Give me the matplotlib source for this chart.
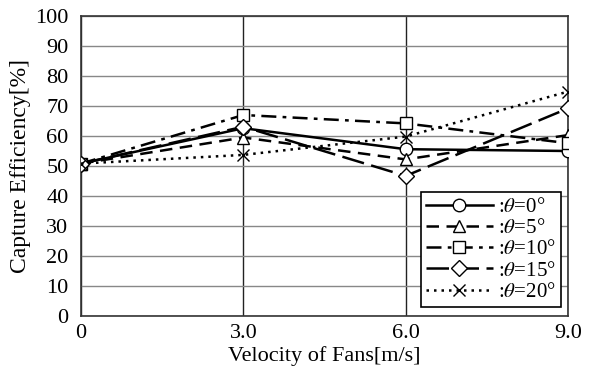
import matplotlib
matplotlib.use("Agg")
import matplotlib.pyplot as plt

velocity = [0, 3.0, 6.0, 9.0]
xtick_labels = ["0", "3.0", "6.0", "9.0"]
theta_labels = ["0", "5", "10", "15", "20"]
eff_0 = [50.8, 62.6, 55.6, 55.0]
eff_5 = [50.8, 59.5, 52.2, 60.3]
eff_10 = [50.8, 67.0, 64.2, 57.6]
eff_15 = [50.8, 63.1, 46.7, 69.2]
eff_20 = [50.8, 53.7, 59.8, 74.8]

plt.rcParams['font.family'] = ['Liberation Serif', 'DejaVu Serif']
plt.rcParams['mathtext.fontset'] = 'stix'

fig = plt.figure(figsize=(5.96, 3.76), dpi=100)
ax = fig.add_axes([81/596, 1-316/376, (568-81)/596, 300/376])

series = [eff_0, eff_5, eff_10, eff_15, eff_20]
markers = ['o', '^', 's', 'D', 'x']
styles = ['-', (0, (5, 3)), (0, (6, 2.5, 1.5, 2.5)), (0, (9, 3)), (0, (1, 2))]
msizes = [9, 9, 9, 8, 9]
for vals, m, ls, th, ms in zip(series, markers, styles, theta_labels, msizes):
    ax.plot(velocity, vals, color='black', linestyle=ls, linewidth=1.8,
            marker=m, markersize=ms, markerfacecolor='white',
            markeredgecolor='black', markeredgewidth=1.0,
            label=r':$\theta$=' + th + '°', zorder=3)

ax.set_xlim(0, 9.0)
ax.set_ylim(0, 100)
ax.set_xticks(velocity)
ax.set_xticklabels(xtick_labels)
ax.set_yticks(range(0, 101, 10))
ax.tick_params(axis='both', length=0, labelsize=16)
ax.tick_params(axis='x', pad=6)
ax.tick_params(axis='y', pad=9)
ax.grid(True, axis='y', color='#888888', linewidth=1.0)
ax.grid(True, axis='x', color='#222222', linewidth=1.0)
ax.set_axisbelow(True)
for sp in ax.spines.values():
    sp.set_color('#333333')
    sp.set_linewidth(1.2)

ax.set_xlabel('Velocity of Fans[m/s]', fontsize=16, labelpad=2)
ax.set_ylabel('Capture Efficiency[%]', fontsize=17, labelpad=3)

leg = ax.legend(loc='lower right', bbox_to_anchor=(0.985, 0.03), fontsize=15,
                handlelength=3.2, handletextpad=0.25, labelspacing=0.08,
                borderpad=0.25, fancybox=False, framealpha=1,
                edgecolor='black', borderaxespad=0)
leg.get_frame().set_linewidth(1.2)

fig.savefig('out.png', dpi=100)
